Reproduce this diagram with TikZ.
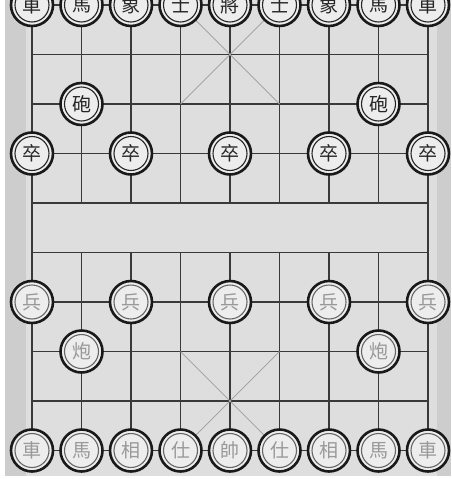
\documentclass[tikz,border=0pt]{standalone}
\usepackage{fontspec}
\newfontfamily\cjk{Noto Sans CJK TC}
\definecolor{boardbg}{HTML}{DEDEDE}
\definecolor{edgebg}{HTML}{CDCDCD}
\definecolor{piecebg}{HTML}{EDEDED}

\begin{document}
\begin{tikzpicture}[
  x=1pt, y=-1pt,
  gridline/.style={draw=gray!45!black, line width=1.1pt},
  palaceline/.style={draw=gray!70, line width=0.9pt},
  blackpc/.style={circle, draw=black!90, fill=piecebg, line width=2.6pt, minimum size=42pt, inner sep=0pt,
    font=\cjk\fontsize{19}{19}\selectfont, text=black!85,
    path picture={\draw[black!85, line width=1.1pt] (path picture bounding box.center) circle (17pt);}},
  redpc/.style={blackpc, text=gray!80,
    path picture={\draw[gray!80!black, line width=1.1pt] (path picture bounding box.center) circle (17pt);}}
]
  \useasboundingbox (0,0) rectangle (451,479);
  \clip (0,0) rectangle (451,479);
  % board
  \fill[white] (0,0) rectangle (451,479);
  \fill[boardbg] (5,0) rectangle (451,476);
  \fill[edgebg] (5,0) rectangle (26,476);
  \fill[edgebg] (437,0) rectangle (451,476);
  % grid
  \foreach \j in {0,...,9}
    \draw[gridline] (32,5+49.5*\j) -- (428,5+49.5*\j);
  \draw[gridline] (32,5) -- (32,450.5);
  \draw[gridline] (428,5) -- (428,450.5);
  \foreach \i in {1,...,7} {
    \draw[gridline] (32+49.5*\i,5) -- (32+49.5*\i,203);
    \draw[gridline] (32+49.5*\i,252.5) -- (32+49.5*\i,450.5);
  }
  % palaces
  \draw[palaceline] (180.5,5) -- (279.5,104) (279.5,5) -- (180.5,104);
  \draw[palaceline] (180.5,351.5) -- (279.5,450.5) (279.5,351.5) -- (180.5,450.5);
  % black side
  \foreach \pc [count=\i from 0] in {車,馬,象,士,將,士,象,馬,車}
    \node[blackpc] (bk\i) at (32+49.5*\i,5) {\pc};
  \node[blackpc] (bc1) at (81.5,104) {砲};
  \node[blackpc] (bc2) at (378.5,104) {砲};
  \foreach \i in {0,...,4}
    \node[blackpc] (bp\i) at (32+99*\i,153.5) {卒};
  % red side
  \foreach \i in {0,...,4}
    \node[redpc] (rp\i) at (32+99*\i,302) {兵};
  \node[redpc] (rc1) at (81.5,351.5) {炮};
  \node[redpc] (rc2) at (378.5,351.5) {炮};
  \foreach \pc [count=\i from 0] in {車,馬,相,仕,帥,仕,相,馬,車}
    \node[redpc] (rk\i) at (32+49.5*\i,450.5) {\pc};
\end{tikzpicture}
\end{document}
